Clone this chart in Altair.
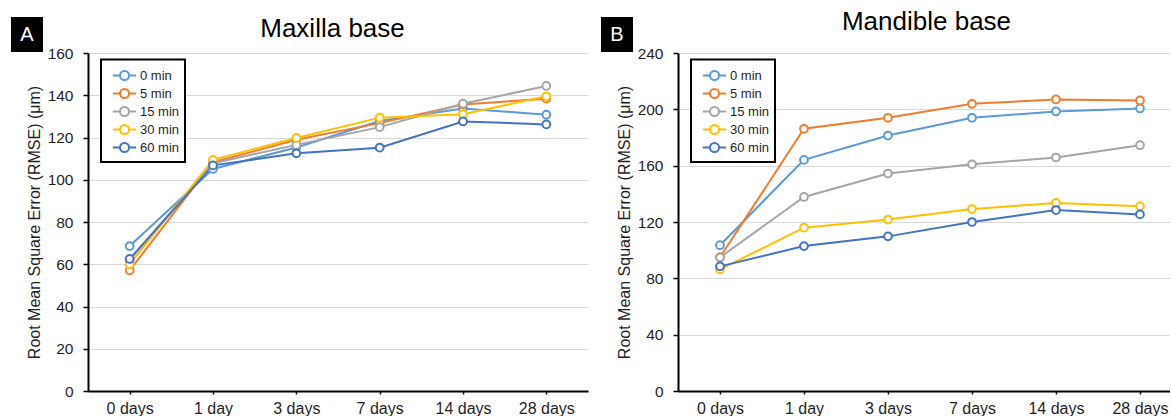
import altair as alt
import pandas as pd

DAYS = ["0 days", "1 day", "3 days", "7 days", "14 days", "28 days"]
SERIES = ["0 min", "5 min", "15 min", "30 min", "60 min"]
COLORS = ["#5B9BD5", "#ED7D31", "#A5A5A5", "#FFC000", "#4472C4"]

MAXILLA = {
    "0 min": [68.6, 105.1, 115.3, 127.8, 133.7, 130.8],
    "5 min": [57.1, 108.3, 118.9, 126.8, 135.6, 138.4],
    "15 min": [62.0, 107.8, 116.5, 124.9, 136.0, 144.4],
    "30 min": [60.0, 109.4, 119.8, 129.4, 131.0, 139.5],
    "60 min": [62.5, 106.8, 112.5, 115.2, 127.6, 126.2],
}
MANDIBLE = {
    "0 min": [103.5, 164.1, 181.4, 194.0, 198.5, 200.6],
    "5 min": [95.0, 186.2, 194.0, 203.9, 207.0, 206.3],
    "15 min": [94.9, 137.8, 154.4, 161.0, 165.8, 174.5],
    "30 min": [86.3, 116.0, 121.7, 129.2, 133.5, 131.1],
    "60 min": [88.5, 102.9, 109.8, 120.0, 128.5, 125.4],
}

TITLES = ["Maxilla base", "Mandible base"]
LETTERS = ["A", "B"]
Y_TICKS = [[0, 20, 40, 60, 80, 100, 120, 140, 160], [0, 40, 80, 120, 160, 200, 240]]
Y_TITLE = "Root Mean Square Error (RMSE) (μm)"

FONT = "Liberation Sans"
TXT = "#1f1f1f"
H = 338

LEGEND_SYMBOL = "M-2.6,0L-1,0M1,0L2.6,0M-1,0A1,1,0,1,1,1,0A1,1,0,1,1,-1,0"


def long_df(d):
    rows = []
    for s in SERIES:
        for day, v in zip(DAYS, d[s]):
            rows.append({"day": day, "series": s, "value": v})
    return pd.DataFrame(rows)


def one():
    return pd.DataFrame({"k": [0]})


def panel(data, title, letter, ticks, width, xpad, xalign, title_dx, title_y):
    df = long_df(data)
    xs = alt.X(
        "day:N",
        sort=DAYS,
        scale=alt.Scale(type="point", padding=xpad, align=xalign),
        axis=alt.Axis(
            labelAngle=0, title=None, tickSize=3, tickColor="black", tickWidth=1.5,
            domainColor="black", domainWidth=2, labelFontSize=16, labelFont=FONT,
            labelColor=TXT, labelPadding=6, grid=False,
        ),
    )
    ys = alt.Y(
        "value:Q",
        scale=alt.Scale(domain=[ticks[0], ticks[-1]], nice=False),
        axis=alt.Axis(
            values=ticks, grid=True, gridColor="#d9d9d9", gridWidth=1,
            domainColor="black", domainWidth=2, tickColor="black", tickSize=5,
            tickWidth=1.5, labelFontSize=15.5, labelFont=FONT, labelColor=TXT,
            labelPadding=10, title=Y_TITLE, titleFontSize=16, titleFont=FONT,
            titleFontWeight="normal", titleColor=TXT, titleX=-46, titleY=H / 2,
        ),
    )
    color = alt.Color(
        "series:N",
        sort=SERIES,
        scale=alt.Scale(domain=SERIES, range=COLORS),
        legend=alt.Legend(
            title=None, orient="none", legendX=30, legendY=16, padding=0,
            symbolType=LEGEND_SYMBOL, symbolSize=81, symbolStrokeWidth=2,
            symbolFillColor="white", labelFontSize=13, labelFont=FONT,
            labelColor=TXT, labelOffset=9, rowPadding=1,
        ),
    )
    base = alt.Chart(df).encode(x=xs, y=ys, color=color)
    lines = base.mark_line(strokeWidth=2)
    points = base.mark_point(filled=False, fill="white", fillOpacity=1, size=60, strokeWidth=2, opacity=1)

    legend_box = alt.Chart(one()).mark_rect(
        fill="white", stroke="black", strokeWidth=2
    ).encode(x=alt.value(13), x2=alt.value(97), y=alt.value(6.6), y2=alt.value(109))

    letter_box = alt.Chart(one()).mark_rect(color="black").encode(
        x=alt.value(-77), x2=alt.value(-45), y=alt.value(-36), y2=alt.value(-1)
    )
    letter_txt = alt.Chart(pd.DataFrame({"t": [letter]})).mark_text(
        color="white", fontSize=20, font=FONT, align="center", baseline="middle"
    ).encode(text="t:N", x=alt.value(-61), y=alt.value(-18.5))
    title_txt = alt.Chart(pd.DataFrame({"t": [title]})).mark_text(
        color="black", fontSize=26, font=FONT, align="center", baseline="alphabetic"
    ).encode(text="t:N", x=alt.value(width / 2 + title_dx), y=alt.value(title_y))

    return alt.layer(
        letter_box, letter_txt, title_txt, lines, points, legend_box
    ).properties(width=width, height=H)


chart_a = panel(MAXILLA, TITLES[0], LETTERS[0], Y_TICKS[0], 500, 0.5, 0.5, -5.5, -16)
chart_b = panel(MANDIBLE, TITLES[1], LETTERS[1], Y_TICKS[1], 492, 0.4286, 0.583, 2.5, -22.7)

chart = (
    alt.hconcat(chart_a, chart_b, spacing=13)
    .resolve_scale(x="independent", y="independent", color="independent")
    .resolve_legend(color="independent")
    .properties(padding={"left": 11, "top": 9, "right": 0, "bottom": 0}, background="white")
    .configure_view(stroke=None)
)

chart.save("out.html", embed_options={"renderer": "svg", "actions": False})
